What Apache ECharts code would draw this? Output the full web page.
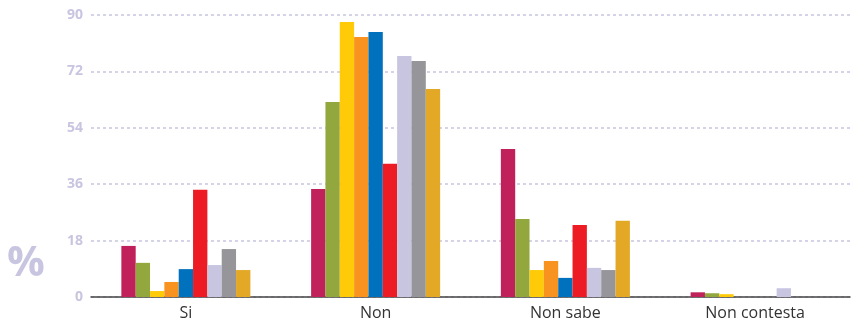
<!DOCTYPE html>
<html>
<head>
<meta charset="utf-8">
<script src="https://cdn.jsdelivr.net/npm/echarts@6/dist/echarts.min.js"></script>
<style>
  html, body { margin: 0; padding: 0; background: #fff; }
  #chart { width: 854px; height: 327px; }
</style>
</head>
<body>
<div id="chart"></div>
<script>
const categories = ['Si', 'Non', 'Non sabe', 'Non contesta']
const yTicks = [0, 18, 36, 54, 72, 90]

const s1 = [16.3, 34.5, 47.2, 1.5]
const s2 = [10.9, 62.2, 24.9, 1.2]
const s3 = [1.9, 87.8, 8.6, 0.9]
const s4 = [4.8, 83.0, 11.5, 0]
const s5 = [8.9, 84.6, 6.1, 0]
const s6 = [34.2, 42.5, 23.0, 0]
const s7 = [10.2, 76.9, 9.3, 2.8]
const s8 = [15.3, 75.3, 8.6, 0]
const s9 = [8.6, 66.4, 24.3, 0]

const seriesData = [s1, s2, s3, s4, s5, s6, s7, s8, s9]
const colors = ['#c0215a', '#92a83e', '#ffca08', '#f7931e', '#0071bc', '#ed1c24', '#c8c5e1', '#96969a', '#e3a926']

const chart = echarts.init(document.getElementById('chart'))

chart.setOption({
  animation: false,
  grid: { left: 91, right: 4, top: 15, bottom: 30 },
  graphic: [
    {
      type: 'text',
      left: 7,
      top: 243,
      style: {
        text: '%',
        font: 'bold 42px "Open Sans", sans-serif',
        fill: '#c8c5e1',
      },
    },
  ],
  xAxis: {
    type: 'category',
    data: categories,
    axisTick: { show: false },
    axisLine: { lineStyle: { color: '#444', width: 1.5 } },
    axisLabel: {
      color: '#333',
      fontSize: 16,
      fontFamily: 'Open Sans',
      margin: 8,
    },
  },
  yAxis: {
    type: 'value',
    min: yTicks[0],
    max: yTicks[yTicks.length - 1],
    interval: 18,
    axisLine: { show: false },
    axisTick: { show: false },
    axisLabel: {
      color: '#c8c5e1',
      fontSize: 14,
      fontWeight: 'bold',
      fontFamily: 'Open Sans',
      margin: 8,
    },
    splitLine: {
      lineStyle: { color: '#c8c5e1', type: [3, 3], width: 1.5 },
    },
  },
  series: seriesData.map((d, i) => ({
    type: 'bar',
    data: d,
    barGap: '0%',
    barCategoryGap: '32%',
    itemStyle: { color: colors[i] },
  })),
})
</script>
</body>
</html>
